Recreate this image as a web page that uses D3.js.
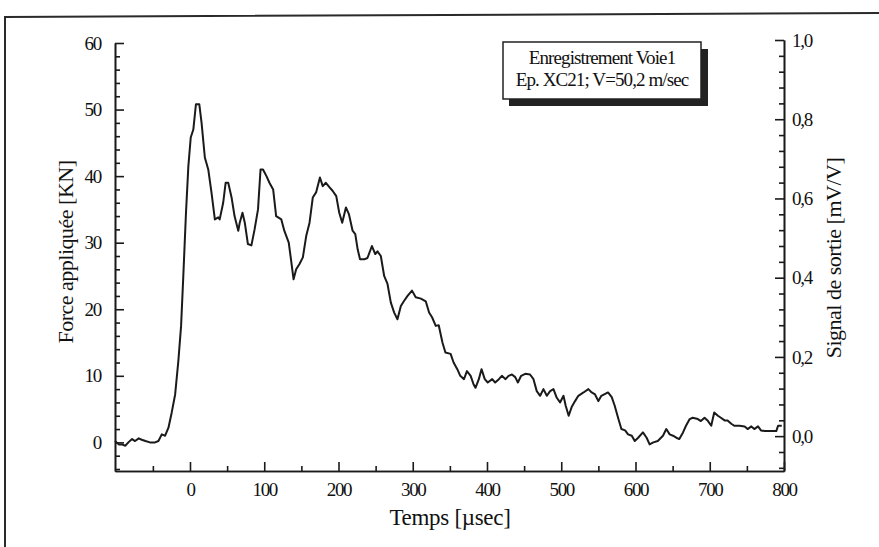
<!DOCTYPE html>
<html>
<head>
<meta charset="utf-8">
<script src="https://cdn.jsdelivr.net/npm/d3@7"></script>
<style>
  body { margin: 0; background: #fff; }
  svg text { font-family: "Liberation Serif", "Times New Roman", serif; fill: #111; }
  .axis path, .axis line { stroke: #1a1a1a; stroke-width: 1.6; }
  .axis text { font-size: 19px; letter-spacing: -1.3px; }
</style>
</head>
<body>
<svg id="chart" width="879" height="547"></svg>
<script>
// temps (µs) et force (kN)
const timeUs = [-101, -96, -92, -87, -83, -78, -74, -69, -65, -60, -54, -47, -42.5, -38, -33.5, -29, -24.6, -20, -15.7, -12,
  -9, -5.4, -2.2, 1, 4.5, 8, 12.5, 15.6, 20, 24.6, 29, 33.5, 38, 40, 44.7, 48, 51.5, 56, 60, 65,
  67, 70.7, 73.8, 78, 82.7, 87, 91.6, 95, 98.3, 103, 107, 112, 116, 123, 127, 133, 136, 139.5, 143, 147.5,
  152, 156.5, 161, 165.4, 170, 175, 178.8, 183, 188, 192, 197, 201, 205, 210, 214, 219, 222.6, 225.8, 229, 234.7,
  239, 245, 249.5, 252.5, 257, 261.5, 266, 270.5, 275, 279.4, 284, 288, 293, 299, 304, 311, 317.5, 322, 326, 331,
  335, 340, 344, 351, 355, 360, 364, 369, 373, 378, 382, 384.5, 389, 392.6, 397, 401, 407, 411, 416, 420,
  425, 429, 433.6, 438, 441.6, 446, 451.5, 458, 462.6, 467, 471.6, 476, 480.6, 485, 489.5, 494, 498.4, 503, 506, 510,
  514, 518.6, 523, 530, 536.5, 541, 545.5, 550, 554, 563, 568, 572, 577, 581, 586, 590, 595, 599, 603.6, 610,
  615, 619, 624, 630, 637, 641.5, 646, 650.5, 655, 659, 664, 668, 673, 677, 684, 688, 693, 697, 702, 706,
  711, 715, 720, 724, 729, 733, 740, 747, 751, 756, 760, 765, 769, 774, 783, 789.6, 792, 797];
const forceKN = [0.2, -0.3, -0.3, -0.5, 0, 0.5, 0.2, 0.6, 0.4, 0.2, 0, 0, 0.2, 1.2, 1, 2.2, 4.5, 7.2, 12.2, 17.5,
  25, 34.5, 41.5, 45.8, 47, 50.8, 50.8, 48, 42.8, 41, 37.5, 33.5, 33.8, 33.5, 36, 39, 39, 36.8, 34, 31.8,
  33, 34.5, 33, 29.8, 29.6, 32, 35, 41, 41, 40, 39, 38, 34, 33.5, 31.8, 30, 27.5, 24.5, 26, 26.8,
  27.8, 31, 33, 36.8, 37.6, 39.8, 38.5, 39, 38.3, 37.8, 37, 34.5, 33, 35.3, 34.3, 31.8, 31.3, 29, 27.5, 27.5,
  27.7, 29.5, 28.3, 28.7, 28, 25, 23.8, 21, 19.5, 18.5, 20.5, 21.2, 22, 22.8, 21.8, 21.6, 21.2, 19.5, 18.8, 17.5,
  17.6, 15, 13.5, 13.3, 12, 11, 10, 9.5, 10.7, 10, 8.7, 8.2, 9.5, 11, 9.5, 9, 9.5, 9, 9.5, 10,
  9.5, 10, 10.2, 9.8, 9, 10, 10.3, 10.2, 9.5, 7.7, 7, 8, 7, 7.7, 8, 6.7, 6, 7, 5.5, 4,
  5.3, 6.2, 7, 7.5, 8, 7.5, 7.2, 6.2, 7, 7.5, 6.8, 5.5, 3.5, 2, 1.8, 1.2, 1, 0.2, 0.7, 1.5,
  0.7, -0.3, 0, 0.2, 1, 2, 1.2, 1, 0.7, 0.5, 1.5, 2.5, 3.5, 3.7, 3.5, 3.2, 3.7, 3.3, 2.5, 4.5,
  4, 3.7, 3.3, 3.3, 2.8, 2.5, 2.5, 2.4, 2, 2.4, 2, 2.4, 1.8, 1.7, 1.7, 1.7, 2.5, 2.5];

const xTicks = [0, 100, 200, 300, 400, 500, 600, 700, 800];
const xMinorTicks = [-50, 50, 150, 250, 350, 450, 550, 650, 750];
const forceTicks = [0, 10, 20, 30, 40, 50, 60];
const signalTicks = [0, 0.2, 0.4, 0.6, 0.8, 1.0];
const legendLines = ["Enregistrement Voie1", "Ep. XC21; V=50,2 m/sec"];

const svg = d3.select("#chart");

// cadre de la figure
svg.append("path")
  .attr("d", "M5,547 L5,17 L879,13")
  .attr("fill", "none")
  .attr("stroke", "#2a2a2a")
  .attr("stroke-width", 2);

const x = d3.scaleLinear().domain([-101, 800]).range([115, 784]);
const y = d3.scaleLinear().domain([-4.3, 60]).range([471, 43]);
const y2 = d3.scaleLinear().domain([-0.088, 1.0]).range([471, 40]);

const fmt = d3.format(".1f");

// minor ticks
svg.append("g").attr("class", "axis")
  .attr("transform", "translate(0,471)")
  .call(d3.axisBottom(x).tickValues(xMinorTicks).tickSize(-5).tickSizeOuter(0).tickFormat(""));
svg.append("g").attr("class", "axis")
  .attr("transform", "translate(115,0)")
  .call(d3.axisLeft(y).tickValues(d3.range(-4, 60, 2).filter(v => v % 10 != 0)).tickSize(-5).tickSizeOuter(0).tickFormat(""));
svg.append("g").attr("class", "axis")
  .attr("transform", "translate(784,0)")
  .call(d3.axisRight(y2).tickValues(d3.range(-0.08, 1.0, 0.04).filter(v => Math.abs(v * 5 - Math.round(v * 5)) > 0.01)).tickSize(-5).tickSizeOuter(0).tickFormat(""));

// major ticks
svg.append("g").attr("class", "axis")
  .attr("transform", "translate(0,471)")
  .call(d3.axisBottom(x).tickValues(xTicks).tickSize(-9).tickSizeOuter(0).tickPadding(12));
svg.append("g").attr("class", "axis")
  .attr("transform", "translate(115,0)")
  .call(d3.axisLeft(y).tickValues(forceTicks).tickSize(-9).tickSizeOuter(0).tickPadding(14));
svg.append("g").attr("class", "axis")
  .attr("transform", "translate(784,0)")
  .call(d3.axisRight(y2).tickValues(signalTicks).tickSize(-9).tickSizeOuter(0).tickPadding(8)
    .tickFormat(d => fmt(d).replace(".", ",")));

svg.selectAll(".axis .domain").attr("stroke-width", 2);

// courbe
const line = d3.line()
  .x((d, i) => x(timeUs[i]))
  .y(d => y(d));

svg.append("path")
  .datum(forceKN)
  .attr("d", line)
  .attr("fill", "none")
  .attr("stroke", "#1a1a1a")
  .attr("stroke-width", 2)
  .attr("stroke-linejoin", "round");

// titres des axes
svg.append("text")
  .attr("transform", "translate(73,252) rotate(-90)")
  .attr("text-anchor", "middle")
  .style("font-size", "22px")
  .style("letter-spacing", "-0.5px")
  .text("Force appliquée [KN]");

svg.append("text")
  .attr("transform", "translate(841,258) rotate(-90)")
  .attr("text-anchor", "middle")
  .style("font-size", "22px")
  .style("letter-spacing", "-0.5px")
  .text("Signal de sortie [mV/V]");

svg.append("text")
  .attr("x", 450)
  .attr("y", 525)
  .attr("text-anchor", "middle")
  .style("font-size", "23px")
  .style("letter-spacing", "-0.3px")
  .text("Temps [µsec]");

// encadré
const legend = svg.append("g");
legend.append("rect")
  .attr("x", 509).attr("y", 49).attr("width", 199).attr("height", 57)
  .attr("fill", "#222");
legend.append("rect")
  .attr("x", 503).attr("y", 42).attr("width", 198).attr("height", 57)
  .attr("fill", "#fff")
  .attr("stroke", "#222")
  .attr("stroke-width", 1.5);
legend.selectAll("text")
  .data(legendLines)
  .enter()
  .append("text")
  .attr("x", 602)
  .attr("y", (d, i) => 64 + i * 22)
  .attr("text-anchor", "middle")
  .style("font-size", "19px")
  .style("letter-spacing", "-0.9px")
  .text(d => d);
</script>
</body>
</html>
